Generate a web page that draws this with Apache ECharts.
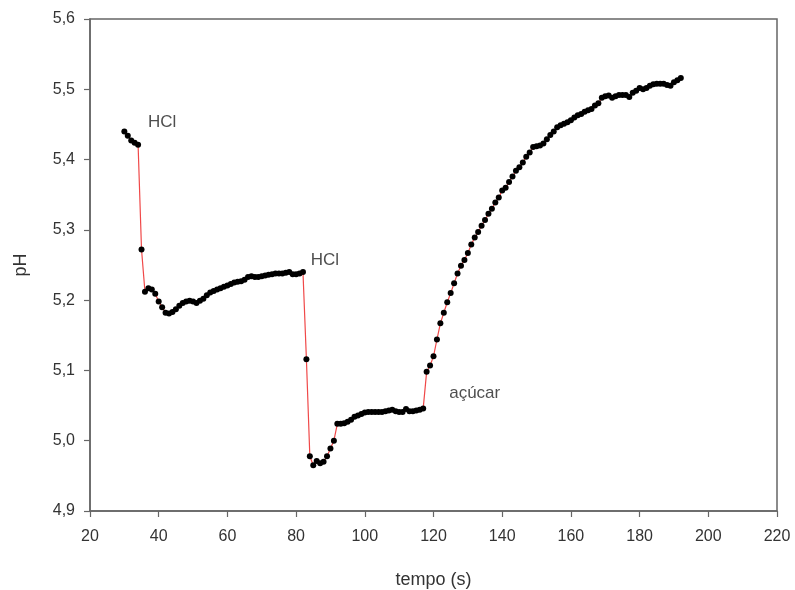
<!DOCTYPE html>
<html><head><meta charset="utf-8">
<script src="https://cdn.jsdelivr.net/npm/echarts@6/dist/echarts.min.js"></script>
<style>html,body{margin:0;padding:0;background:#fff}#c{width:795px;height:590px}</style>
</head><body><div id="c"></div>
<script>
const times = [30,31,32,33,34,35,36,37,38,39,40,41,42,43,44,45,46,47,48,49,50,51,52,53,54,55,56,57,58,59,60,61,62,63,64,65,66,67,68,69,70,71,72,73,74,75,76,77,78,79,80,81,82,83,84,85,86,87,88,89,90,91,92,93,94,95,96,97,98,99,100,101,102,103,104,105,106,107,108,109,110,111,112,113,114,115,116,117,118,119,120,121,122,123,124,125,126,127,128,129,130,131,132,133,134,135,136,137,138,139,140,141,142,143,144,145,146,147,148,149,150,151,152,153,154,155,156,157,158,159,160,161,162,163,164,165,166,167,168,169,170,171,172,173,174,175,176,177,178,179,180,181,182,183,184,185,186,187,188,189,190,191,192];
const pH = [5.440,5.434,5.427,5.424,5.421,5.272,5.212,5.217,5.215,5.209,5.198,5.190,5.182,5.181,5.183,5.187,5.192,5.196,5.198,5.199,5.198,5.196,5.199,5.202,5.207,5.211,5.213,5.215,5.217,5.219,5.221,5.223,5.225,5.226,5.227,5.229,5.233,5.234,5.233,5.233,5.234,5.235,5.236,5.237,5.238,5.238,5.238,5.239,5.240,5.237,5.237,5.238,5.240,5.116,4.978,4.965,4.971,4.968,4.970,4.978,4.989,5.000,5.024,5.024,5.025,5.027,5.030,5.034,5.036,5.038,5.040,5.041,5.041,5.041,5.041,5.041,5.042,5.043,5.044,5.042,5.041,5.041,5.045,5.042,5.042,5.043,5.044,5.046,5.098,5.107,5.120,5.144,5.167,5.182,5.197,5.210,5.224,5.238,5.249,5.257,5.267,5.279,5.289,5.297,5.306,5.314,5.323,5.330,5.339,5.346,5.356,5.360,5.368,5.376,5.384,5.389,5.396,5.404,5.410,5.418,5.419,5.420,5.423,5.429,5.435,5.440,5.446,5.449,5.451,5.453,5.456,5.460,5.463,5.465,5.468,5.470,5.472,5.477,5.480,5.488,5.490,5.491,5.488,5.490,5.492,5.492,5.492,5.489,5.495,5.498,5.502,5.500,5.502,5.505,5.507,5.508,5.508,5.508,5.506,5.505,5.510,5.513,5.516];
const annotTexts = ["HCl","HCl","açúcar"];
const annotTimes = [41, 88.4, 132];
const annotPH = [5.4526, 5.2565, 5.0676];

const font = "'Liberation Sans', Arial, sans-serif";
const chart = echarts.init(document.getElementById('c'));
chart.setOption({
  animation: false,
  backgroundColor: '#fff',
  grid: {left: 90, right: 18, top: 19, bottom: 79, outerBoundsMode: 'none', containLabel: false,
    show: true, borderColor: '#666', borderWidth: 1.5, backgroundColor: 'transparent'},
  xAxis: {
    type: 'value', min: 20, max: 220, interval: 20,
    name: 'tempo (s)', nameLocation: 'middle', nameGap: 60,
    nameTextStyle: {fontFamily: font, fontSize: 18, color: '#333'},
    axisLine: {show: true, lineStyle: {color: '#666', width: 1.5}},
    axisTick: {show: true, length: 6, lineStyle: {color: '#666', width: 1.2}},
    axisLabel: {fontFamily: font, fontSize: 16, color: '#333', margin: 18},
    splitLine: {show: false}
  },
  yAxis: {
    type: 'value', min: 4.9, max: 5.6, interval: 0.1,
    name: 'pH', nameLocation: 'middle', nameGap: 60,
    nameTextStyle: {fontFamily: font, fontSize: 18, color: '#333'},
    axisLine: {show: true, lineStyle: {color: '#666', width: 1.5}},
    axisTick: {show: true, length: 6, lineStyle: {color: '#666', width: 1.2}},
    axisLabel: {fontFamily: font, fontSize: 16, color: '#333', margin: 15,
      formatter: v => v.toFixed(1).replace('.', ',')},
    splitLine: {show: false}
  },
  series: [
    {
      type: 'line',
      data: times.map((t, i) => [t, pH[i]]),
      lineStyle: {color: '#f04848', width: 1.2},
      symbol: 'circle', symbolSize: 6,
      itemStyle: {color: '#000', borderWidth: 0},
      showAllSymbol: true
    },
    {
      type: 'scatter',
      symbolSize: 0,
      silent: true,
      data: annotTimes.map((t, i) => ({value: [t, annotPH[i]], name: annotTexts[i]})),
      label: {show: true, position: 'inside', formatter: p => p.name,
        fontFamily: font, fontSize: 17, color: '#222'}
    }
  ]
});
</script></body></html>
